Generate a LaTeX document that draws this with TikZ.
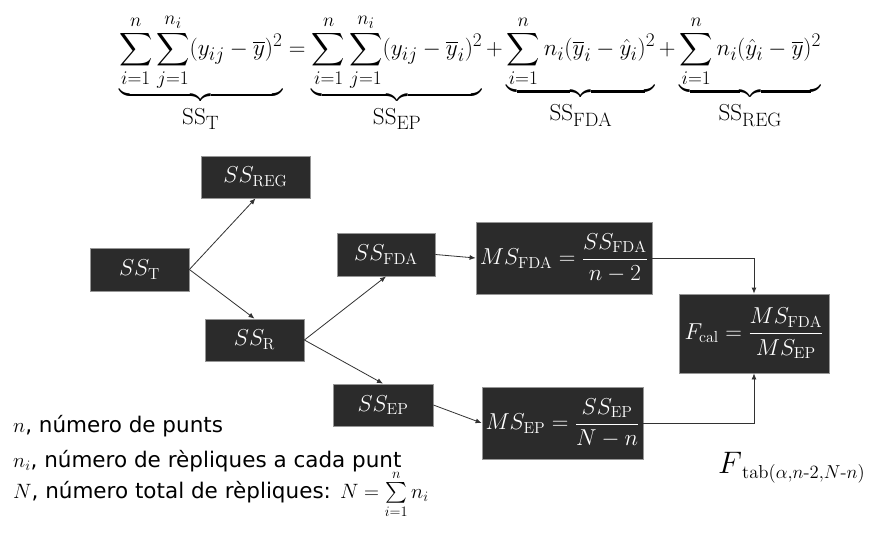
\documentclass[tikz,border=0pt]{standalone}
\usepackage{amsmath}
\usepackage{graphicx}
\usepackage{fontspec}
\newfontfamily\legendfont{DejaVu Sans}
\usetikzlibrary{arrows.meta}
\definecolor{boxfill}{RGB}{43,43,43}
\definecolor{boxline}{RGB}{150,150,150}
\definecolor{linecol}{RGB}{50,50,50}
\newcommand{\boxtxt}[1]{\scalebox{1.11}{#1}}
\newcommand{\sslabel}[1]{\textstyle\rule{0pt}{23pt}\mathrm{SS}_{\mathrm{#1}}}
\begin{document}
\begin{tikzpicture}[x=1pt,y=-1pt,
  box/.style={fill=boxfill,draw=boxline,line width=0.8pt,text=white,inner sep=0pt,
    font=\huge},
  conn/.style={draw=linecol,line width=0.8pt,-{Latex[length=6pt,width=5pt]}},
  legend/.style={anchor=base west,inner sep=0pt,font=\fontsize{21.5}{26}\selectfont}]
\useasboundingbox[fill=white] (0,0) rectangle (874,553);

% top equation
\node[anchor=north,inner sep=0pt] (eq) at (470,14) {\scalebox{0.93}{\Huge
$\underbrace{\sum\limits_{i=1}^{n}\sum\limits_{j=1}^{n_i}(y_{ij}-\overline{y})^2}_{\sslabel{T}}
=\underbrace{\sum\limits_{i=1}^{n}\sum\limits_{j=1}^{n_i}(y_{ij}-\overline{y}_i)^2}_{\sslabel{EP}}
+\underbrace{\sum\limits_{i=1}^{n}n_i(\overline{y}_i-\hat{y}_i)^2}_{\sslabel{FDA}}
+\underbrace{\sum\limits_{i=1}^{n}n_i(\hat{y}_i-\overline{y})^2}_{\sslabel{REG}}$}};

% boxes
\node[box,minimum width=109pt,minimum height=42pt] (SSREG) at (255.5,177) {\boxtxt{$SS_{\mathrm{REG}}$}};
\node[box,minimum width=99pt,minimum height=43pt] (SST) at (139.5,269.5) {\boxtxt{$SS_{\mathrm{T}}$}};
\node[box,minimum width=98pt,minimum height=43pt] (SSFDA) at (386,254.5) {\boxtxt{$SS_{\mathrm{FDA}}$}};
\node[box,minimum width=99pt,minimum height=42pt] (SSR) at (254.5,340) {\boxtxt{$SS_{\mathrm{R}}$}};
\node[box,minimum width=100pt,minimum height=42pt] (SSEP) at (383,405) {\boxtxt{$SS_{\mathrm{EP}}$}};
\node[box,minimum width=176pt,minimum height=72pt] (MSFDA) at (564,258) {\boxtxt{$\displaystyle MS_{\mathrm{FDA}}=\frac{SS_{\mathrm{FDA}}}{n-2}$}};
\node[box,minimum width=161pt,minimum height=72pt] (MSEP) at (562.5,423) {\boxtxt{$\displaystyle MS_{\mathrm{EP}}=\frac{SS_{\mathrm{EP}}}{N-n}$}};
\node[box,minimum width=150pt,minimum height=79pt] (Fcal) at (754,333.5) {\boxtxt{$\displaystyle F_{\mathrm{cal}}=\frac{MS_{\mathrm{FDA}}}{MS_{\mathrm{EP}}}$}};

% connectors
\draw[conn] (SST.east) -- (SSREG.south);
\draw[conn] (SST.east) -- (SSR.north);
\draw[conn] (SSR.east) -- (SSFDA.south);
\draw[conn] (SSR.east) -- (SSEP.north);
\draw[conn] (SSFDA.east) -- (MSFDA.west);
\draw[conn] (SSEP.east) -- (MSEP.west);
\draw[conn] (MSFDA.east) -| (Fcal.north);
\draw[conn] (MSEP.east) -| (Fcal.south);

% F tab
\node[anchor=base west,inner sep=0pt] (Ftab) at (718,473) {\Huge $\scalebox{1.25}{$F$}_{\mbox{\scalebox{1.3}{\Large$\mathrm{tab}(\alpha{,}n\text{-}2{,}N\text{-}n)$}}}$};

% legend
\node[legend] (l1) at (13,432) {$n$\legendfont, número de punts};
\node[legend] (l2) at (13,467) {$n_i$\legendfont, número de rèpliques a cada punt};
\node[legend] (l3) at (13,498) {$N$\legendfont, número total de rèpliques: \normalfont$N=\sum\limits_{i=1}^{n}n_i$};
\end{tikzpicture}
\end{document}
